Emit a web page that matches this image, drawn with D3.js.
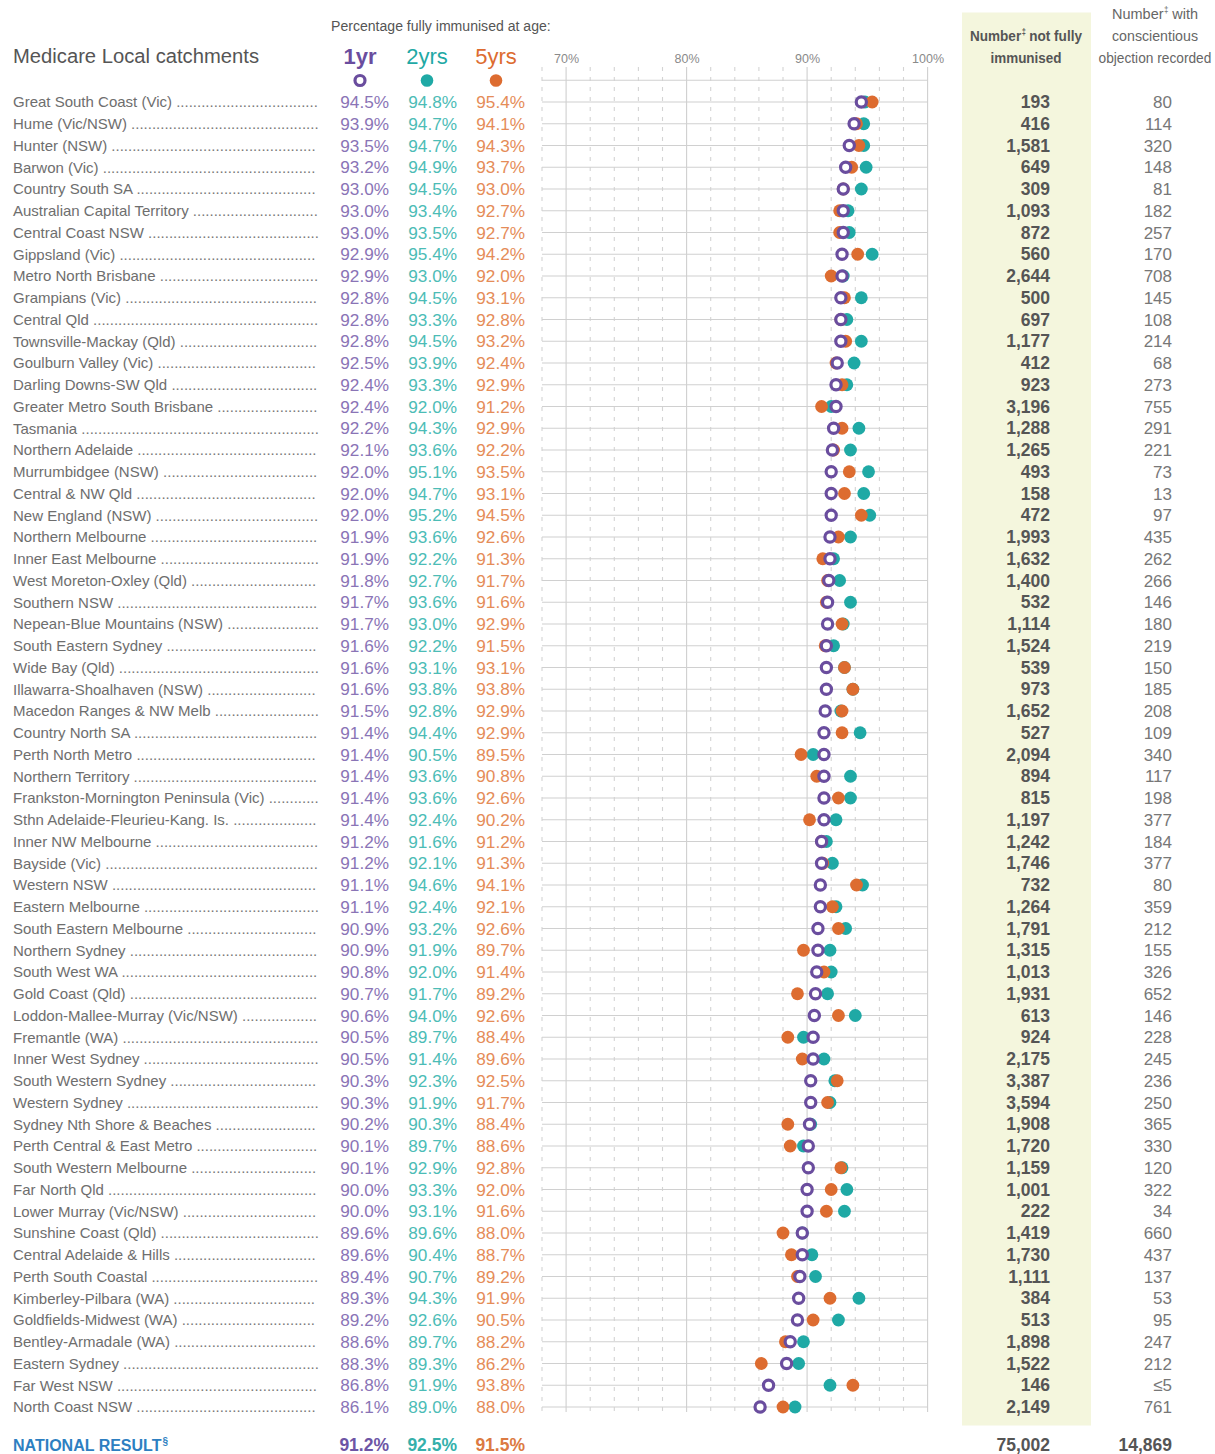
<!DOCTYPE html>
<html><head><meta charset="utf-8">
<script src="https://cdn.jsdelivr.net/npm/d3@7"></script>
<style>body{margin:0;background:#fff}svg{display:block}</style>
</head><body><svg id="c" width="1215" height="1454"></svg>
<script>
const regions = ["Great South Coast (Vic)","Hume (Vic/NSW)","Hunter (NSW)","Barwon (Vic)","Country South SA","Australian Capital Territory","Central Coast NSW","Gippsland (Vic)","Metro North Brisbane","Grampians (Vic)","Central Qld","Townsville-Mackay (Qld)","Goulburn Valley (Vic)","Darling Downs-SW Qld","Greater Metro South Brisbane","Tasmania","Northern Adelaide","Murrumbidgee (NSW)","Central & NW Qld","New England (NSW)","Northern Melbourne","Inner East Melbourne","West Moreton-Oxley (Qld)","Southern NSW","Nepean-Blue Mountains (NSW)","South Eastern Sydney","Wide Bay (Qld)","Illawarra-Shoalhaven (NSW)","Macedon Ranges & NW Melb","Country North SA","Perth North Metro","Northern Territory","Frankston-Mornington Peninsula (Vic)","Sthn Adelaide-Fleurieu-Kang. Is.","Inner NW Melbourne","Bayside (Vic)","Western NSW","Eastern Melbourne","South Eastern Melbourne","Northern Sydney","South West WA","Gold Coast (Qld)","Loddon-Mallee-Murray (Vic/NSW)","Fremantle (WA)","Inner West Sydney","South Western Sydney","Western Sydney","Sydney Nth Shore & Beaches","Perth Central & East Metro","South Western Melbourne","Far North Qld","Lower Murray (Vic/NSW)","Sunshine Coast (Qld)","Central Adelaide & Hills","Perth South Coastal","Kimberley-Pilbara (WA)","Goldfields-Midwest (WA)","Bentley-Armadale (WA)","Eastern Sydney","Far West NSW","North Coast NSW"];
const pct1yr = [94.5,93.9,93.5,93.2,93.0,93.0,93.0,92.9,92.9,92.8, 92.8,92.8,92.5,92.4,92.4,92.2,92.1,92.0,92.0,92.0, 91.9,91.9,91.8,91.7,91.7,91.6,91.6,91.6,91.5,91.4, 91.4,91.4,91.4,91.4,91.2,91.2,91.1,91.1,90.9,90.9, 90.8,90.7,90.6,90.5,90.5,90.3,90.3,90.2,90.1,90.1, 90.0,90.0,89.6,89.6,89.4,89.3,89.2,88.6,88.3,86.8,86.1];
const pct2yr = [94.8,94.7,94.7,94.9,94.5,93.4,93.5,95.4,93.0,94.5, 93.3,94.5,93.9,93.3,92.0,94.3,93.6,95.1,94.7,95.2, 93.6,92.2,92.7,93.6,93.0,92.2,93.1,93.8,92.8,94.4, 90.5,93.6,93.6,92.4,91.6,92.1,94.6,92.4,93.2,91.9, 92.0,91.7,94.0,89.7,91.4,92.3,91.9,90.3,89.7,92.9, 93.3,93.1,89.6,90.4,90.7,94.3,92.6,89.7,89.3,91.9,89.0];
const pct5yr = [95.4,94.1,94.3,93.7,93.0,92.7,92.7,94.2,92.0,93.1, 92.8,93.2,92.4,92.9,91.2,92.9,92.2,93.5,93.1,94.5, 92.6,91.3,91.7,91.6,92.9,91.5,93.1,93.8,92.9,92.9, 89.5,90.8,92.6,90.2,91.2,91.3,94.1,92.1,92.6,89.7, 91.4,89.2,92.6,88.4,89.6,92.5,91.7,88.4,88.6,92.8, 92.0,91.6,88.0,88.7,89.2,91.9,90.5,88.2,86.2,93.8,88.0];
const notImmunised = [193,416,1581,649,309,1093,872,560,2644,500, 697,1177,412,923,3196,1288,1265,493,158,472, 1993,1632,1400,532,1114,1524,539,973,1652,527, 2094,894,815,1197,1242,1746,732,1264,1791,1315, 1013,1931,613,924,2175,3387,3594,1908,1720,1159, 1001,222,1419,1730,1111,384,513,1898,1522,146,2149];
const objections = ["80","114","320","148","81","182","257","170","708","145", "108","214","68","273","755","291","221","73","13","97", "435","262","266","146","180","219","150","185","208","109", "340","117","198","377","184","377","80","359","212","155", "326","652","146","228","245","236","250","365","330","120", "322","34","660","437","137","53","95","247","212","≤5","761"];
const seriesNames = ["1yr","2yrs","5yrs"];
const nationalPct = [91.2, 92.5, 91.5];
const nationalNotImmunised = 75002;
const nationalObjections = 14869;
const axisTicks = [70, 80, 90, 100];

const svg = d3.select("#c");
const FONT = "'Liberation Sans', Arial, Helvetica, sans-serif";
const NARROW = "'Liberation Sans Narrow', 'Arial Narrow', 'Liberation Sans', Arial, sans-serif";
const markCol = ["#6a4d9e", "#1fa9a5", "#dd6c30"];
const textCol = ["#8a74b6", "#4cbcb6", "#e58c58"];
const boldCol = ["#6d55a5", "#35b0ab", "#dc7a42"];
const fmt = d3.format(",");

const x = d3.scaleLinear().domain([68, 100]).range([542, 927.6]);
const y = d3.scalePoint().domain(d3.range(regions.length)).range([102, 1407]);
const step = y.step();

// green panel
svg.append("rect").attr("x", 962).attr("y", 12.5).attr("width", 129).attr("height", 1413)
  .attr("fill", "#f4f6dd");

// grid
const grid = svg.append("g");
const gridVals = d3.range(68, 100.01, 2);
grid.selectAll("line.v").data(gridVals).join("line")
  .attr("x1", d => x(d)).attr("x2", d => x(d))
  .attr("y1", 67).attr("y2", 1412)
  .attr("stroke", d => d % 10 === 0 ? "#cfcfcf" : "#d4d4d4")
  .attr("stroke-width", 1.1)
  .attr("stroke-dasharray", d => d % 10 === 0 ? null : "4,6");
const hRows = [-1].concat(d3.range(regions.length));
grid.selectAll("line.h").data(hRows).join("line")
  .attr("x1", x(68)).attr("x2", x(100))
  .attr("y1", d => d < 0 ? y(0) - step : y(d))
  .attr("y2", d => d < 0 ? y(0) - step : y(d))
  .attr("stroke", "#d0d0d0").attr("stroke-width", 1.1);

// axis labels
const ax = svg.append("g").attr("transform", "translate(0,66)")
  .call(d3.axisTop(x).tickValues(axisTicks).tickSize(0).tickPadding(3).tickFormat(d => d + "%"));
ax.select(".domain").remove();
ax.selectAll("text").attr("font-family", NARROW).attr("font-size", 12.5).attr("fill", "#8a8a8a");

// condensed text helper: pieces laid out at natural widths, group scaled horizontally
function condensed(str, cx, yb, len, opts) {
  const g = svg.append("g");
  const st = t => t.attr("font-family", NARROW).attr("font-size", opts.size)
    .attr("font-weight", opts.bold ? "bold" : "normal").attr("fill", opts.fill);
  let total;
  if (str.indexOf("‡") < 0) {
    const t = st(g.append("text").attr("x", 0).attr("y", 0).text(str));
    total = t.node().getComputedTextLength();
  } else {
    const [a, c] = str.split("‡");
    const ta = st(g.append("text").attr("x", 0).attr("y", 0).text(a.trim()));
    const wa = ta.node().getComputedTextLength();
    st(g.append("text").attr("x", wa + 0.6).attr("y", -6).text("‡")).attr("font-size", opts.size * 0.55);
    const sp = opts.size * 0.278;
    const tc = st(g.append("text").attr("x", wa + 5 + sp).attr("y", 0).text(c.trim()));
    total = wa + 5 + sp + tc.node().getComputedTextLength();
  }
  const sx = len / total;
  const x0 = opts.anchor === "start" ? cx : cx - len / 2;
  g.attr("transform", `translate(${x0},${yb}) scale(${sx},1)`);
}
svg.append("text").attr("x", 13).attr("y", 63).attr("font-family", FONT).attr("font-size", 19.5)
  .attr("fill", "#555").attr("textLength", 246).attr("lengthAdjust", "spacingAndGlyphs")
  .text("Medicare Local catchments");
condensed("Percentage fully immunised at age:", 331, 31, 220, {size: 15, fill: "#555", anchor: "start"});
condensed("Number‡ not fully", 1026, 40.5, 112, {size: 15.5, bold: true, fill: "#555"});
condensed("immunised", 1026, 62.5, 71, {size: 15.5, bold: true, fill: "#555"});
condensed("Number‡ with", 1155, 18.5, 86, {size: 15.5, fill: "#666"});
condensed("conscientious", 1155, 40.5, 86, {size: 15.5, fill: "#666"});
condensed("objection recorded", 1155, 62.5, 113, {size: 15.5, fill: "#666"});

const legX = [360, 427, 496];
seriesNames.forEach((s, i) => {
  svg.append("text").attr("x", legX[i]).attr("y", 64).attr("text-anchor", "middle")
    .attr("font-family", FONT).attr("font-size", 22).attr("font-weight", i === 0 ? "bold" : "normal")
    .attr("fill", markCol[i]).text(s);
});
svg.append("circle").attr("cx", legX[0]).attr("cy", 80.5).attr("r", 5).attr("fill", "#fff")
  .attr("stroke", markCol[0]).attr("stroke-width", 3.2);
svg.append("circle").attr("cx", legX[1]).attr("cy", 80.5).attr("r", 6.3).attr("fill", markCol[1]);
svg.append("circle").attr("cx", legX[2]).attr("cy", 80.5).attr("r", 6.3).attr("fill", markCol[2]);

// row labels with dot leaders
const lab = svg.append("g");
const probe = lab.append("text").attr("font-family", FONT).attr("font-size", 15).text("..........");
const dotW = probe.node().getComputedTextLength() / 10;
probe.remove();
regions.forEach((r, i) => {
  const t = lab.append("text").attr("x", 13).attr("y", y(i) + 5.3)
    .attr("font-family", FONT).attr("font-size", 15).attr("fill", "#6e6e6e");
  t.append("tspan").text(r);
  const w = t.node().getComputedTextLength();
  const n = Math.max(0, Math.floor((318 - 13 - w - 3) / dotW));
  t.append("tspan").attr("fill", "#777").text(" " + ".".repeat(n));
});

// value columns
const valRight = [389, 457, 525];
const series = [pct1yr, pct2yr, pct5yr];
series.forEach((arr, si) => {
  svg.append("g").selectAll("text").data(arr).join("text")
    .attr("x", valRight[si]).attr("y", (d, i) => y(i) + 6)
    .attr("text-anchor", "end").attr("font-family", FONT).attr("font-size", 17.2)
    .attr("fill", textCol[si]).text(d => d.toFixed(1) + "%");
});

// dots: 2yr, then 5yr, then 1yr ring
const dots = svg.append("g");
dots.selectAll("circle.s2").data(pct2yr).join("circle")
  .attr("cx", d => x(d)).attr("cy", (d, i) => y(i)).attr("r", 6.4).attr("fill", markCol[1]);
dots.selectAll("circle.s5").data(pct5yr).join("circle")
  .attr("cx", d => x(d)).attr("cy", (d, i) => y(i)).attr("r", 6.4).attr("fill", markCol[2]);
dots.selectAll("circle.s1").data(pct1yr).join("circle")
  .attr("cx", d => x(d)).attr("cy", (d, i) => y(i)).attr("r", 5.1)
  .attr("fill", "#fff").attr("stroke", markCol[0]).attr("stroke-width", 3.2);

// number columns
svg.append("g").selectAll("text").data(notImmunised).join("text")
  .attr("x", 1050).attr("y", (d, i) => y(i) + 6).attr("text-anchor", "end")
  .attr("font-family", FONT).attr("font-size", 17.5).attr("font-weight", "bold").attr("fill", "#555")
  .text(d => fmt(d));
svg.append("g").selectAll("text").data(objections).join("text")
  .attr("x", 1172).attr("y", (d, i) => y(i) + 6).attr("text-anchor", "end")
  .attr("font-family", FONT).attr("font-size", 17).attr("fill", "#777")
  .text(d => d);

// national row
const ny = 1451;
const nr = svg.append("text").attr("x", 13).attr("y", ny).attr("font-family", FONT)
  .attr("font-size", 16).attr("font-weight", "bold").attr("fill", "#2d7fc1").text("NATIONAL RESULT");
const nw = nr.node().getComputedTextLength();
svg.append("text").attr("x", 13 + nw + 1).attr("y", ny - 6).attr("font-family", FONT)
  .attr("font-size", 10).attr("font-weight", "bold").attr("fill", "#2d7fc1").text("§");
nationalPct.forEach((v, i) => {
  svg.append("text").attr("x", valRight[i]).attr("y", ny).attr("text-anchor", "end")
    .attr("font-family", FONT).attr("font-size", 17.5).attr("font-weight", "bold")
    .attr("fill", boldCol[i]).text(v.toFixed(1) + "%");
});
svg.append("text").attr("x", 1050).attr("y", ny).attr("text-anchor", "end").attr("font-family", FONT)
  .attr("font-size", 17.5).attr("font-weight", "bold").attr("fill", "#555").text(fmt(nationalNotImmunised));
svg.append("text").attr("x", 1172).attr("y", ny).attr("text-anchor", "end").attr("font-family", FONT)
  .attr("font-size", 17.5).attr("font-weight", "bold").attr("fill", "#555").text(fmt(nationalObjections));
</script></body></html>
